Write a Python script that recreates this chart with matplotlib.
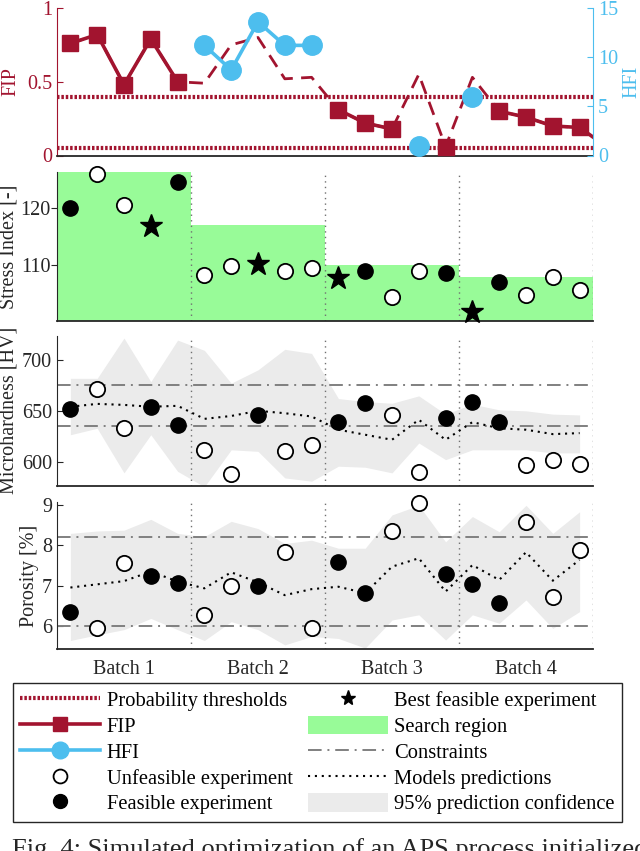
import numpy as np
import matplotlib
matplotlib.use("Agg")
import matplotlib.pyplot as plt
from matplotlib.lines import Line2D
from matplotlib.patches import Patch

plt.rcParams['font.family'] = ['Liberation Serif', 'DejaVu Serif']
plt.rcParams['font.size'] = 14.5

# ---------------------------------------------------------
# Data
# ---------------------------------------------------------
exp_id = np.arange(1, 21)
batch_edges = [0.5, 5.5, 10.5, 15.5, 20.5]
batch_labels = ["Batch 1", "Batch 2", "Batch 3", "Batch 4"]

# top panel: FIP (left axis) and HFI (right axis)
fip = [0.76, 0.82, 0.48, 0.79, 0.50, 0.49, 0.75, 0.80, 0.52, 0.53,
       0.31, 0.22, 0.18, 0.55, 0.06, 0.53, 0.30, 0.26, 0.20, 0.19, 0.06]
fip_runs = [(1, 5), (11, 13), (15, 15), (17, 21)]
hfi_x = [6, 7, 8, 9, 10, 14, 16]
hfi = [11.2, 8.7, 13.6, 11.2, 11.2, 1.0, 6.0]
hfi_runs = [(6, 10), (14, 14), (16, 16)]
prob_thresholds = [0.4, 0.05]

# experiment status
feasible = [1, 4, 5, 8, 11, 12, 15, 16, 17]
best = [4, 8, 11, 16]

# stress index
stress = [120.0, 126.2, 120.6, 116.9, 124.7, 108.1, 109.7, 110.1, 108.8, 109.4,
          107.6, 108.9, 104.2, 108.9, 108.5, 101.6, 106.9, 104.5, 107.8, 105.5]
search_top = [126.5, 117.0, 110.0, 107.8]
stress_floor = 100

# microhardness
hv = [652, 671.4, 633.2, 654, 635.8, 611.5, 588.8, 645.5, 611, 617,
      639, 657.4, 646, 590, 643, 658.4, 639.6, 597.6, 602.4, 598.2]
hv_pred = [654, 656.8, 655.8, 654, 654.9, 642.2, 645, 650, 647.7, 644.5,
           631.6, 626.7, 621.8, 641.3, 621.8, 639, 633, 631.6, 627.3, 628.3]
hv_hi = [681.7, 681.7, 721, 678.5, 719, 709, 677, 690, 710, 706,
         662, 659, 657.4, 664.6, 646.8, 656.5, 651, 650, 646.8, 646]
hv_lo = [626.7, 633, 589.5, 626.7, 591, 576, 612, 610.5, 584.6, 581.4,
         596, 595, 589.5, 618.6, 602.4, 612, 612, 612, 609, 609]
hv_limits = [635, 675]

# porosity
por = [6.35, 5.93, 7.57, 7.24, 7.07, 6.27, 7.0, 7.0, 7.83, 5.93,
       7.59, 6.81, 8.36, 9.07, 7.29, 7.03, 6.57, 8.59, 6.71, 7.89]
por_pred = [6.95, 7.03, 7.11, 7.35, 7.1, 6.93, 7.33, 7.08, 6.76, 6.91,
            6.97, 6.81, 7.47, 7.68, 6.85, 7.51, 7.14, 7.83, 7.12, 7.64]
por_hi = [8.3, 8.36, 8.38, 8.65, 8.3, 8.22, 8.6, 8.42, 8.05, 8.13,
          7.93, 7.93, 8.76, 9.0, 8.09, 8.72, 8.34, 9.0, 8.3, 8.84]
por_lo = [5.63, 5.77, 5.9, 6.18, 5.9, 5.63, 6.1, 5.9, 5.52, 5.73,
          5.68, 5.44, 6.14, 6.27, 5.64, 6.27, 6.06, 6.64, 5.93, 6.35]
por_limits = [6.0, 8.2]

# ---------------------------------------------------------
# Styles
# ---------------------------------------------------------
red = "#A2142F"
blue = "#4DBEEE"
green = "#98FB98"
band = "#EBEBEB"
dark = "#262626"
cons_ls = (0, (7, 3, 1, 3))
pred_ls = (0, (1, 2.3))
thr_ls = (0, (0.6, 0.45))

W, H = 640, 851
fig = plt.figure(figsize=(W / 100, H / 100), dpi=100)


def rect(top, bottom):
    return [57 / W, 1 - bottom / H, 536 / W, (bottom - top) / H]


ax1 = fig.add_axes(rect(8, 155.5))
ax2 = fig.add_axes(rect(172, 320.7))
ax3 = fig.add_axes(rect(336, 485.7))
ax4 = fig.add_axes(rect(501.7, 649.3))

# ---------------------------------------------------------
# Panel 1: FIP / HFI
# ---------------------------------------------------------
ax1r = ax1.twinx()
x_fip = np.arange(1, len(fip) + 1)
for t in prob_thresholds:
    ax1.axhline(t, color=red, lw=3, ls=thr_ls, zorder=1)
ax1.plot(x_fip, fip, color=red, lw=2, ls=(0, (5, 3)), zorder=2)
for a, b in fip_runs:
    xs = x_fip[a - 1:b]
    ys = fip[a - 1:b]
    ax1.plot(xs, ys, color=red, lw=2.6, marker="s", ms=11, zorder=3)

for a, b in hfi_runs:
    xs = [x for x in hfi_x if a <= x <= b]
    ys = [hfi[hfi_x.index(x)] for x in xs]
    ax1r.plot(xs, ys, color=blue, lw=2.6, marker="o", ms=14, zorder=3)

ax1.set_xlim(0.5, 20.5)
ax1.set_ylim(0, 1)
ax1r.set_ylim(0, 15)
ax1.set_yticks([0, 0.5, 1])
ax1.set_yticklabels(["0", "0.5", "1"])
ax1r.set_yticks([0, 5, 10, 15])
ax1.set_xticks([])
ax1.tick_params(axis="y", colors=red, direction="in", length=4)
ax1r.tick_params(axis="y", colors=blue, direction="in", length=4)
ax1.spines["top"].set_visible(False)
ax1.spines["right"].set_visible(False)
ax1.spines["left"].set_color(red)
ax1.spines["bottom"].set_color(dark)
ax1.spines["bottom"].set_linewidth(1.3)
for s in ["top", "left", "bottom"]:
    ax1r.spines[s].set_visible(False)
ax1r.spines["right"].set_color(blue)
ax1.set_ylabel("FIP", color=red)
ax1r.set_ylabel("HFI", color=blue)
ax1.yaxis.set_label_coords(-0.068, 0.5)
ax1r.yaxis.set_label_coords(1.055, 0.5)


# ---------------------------------------------------------
# Experiment markers helper
# ---------------------------------------------------------
def draw_points(ax, values, with_best):
    for i, v in zip(exp_id, values):
        if with_best and i in best:
            ax.plot(i, v, marker="*", ms=17, color="black", ls="none",
                    zorder=5, clip_on=False)
        elif i in feasible:
            ax.plot(i, v, marker="o", ms=11, mfc="black", mec="black",
                    ls="none", zorder=5, clip_on=False)
        else:
            ax.plot(i, v, marker="o", ms=11, mfc="white", mec="black",
                    mew=1.3, ls="none", zorder=5, clip_on=False)


def style_panel(ax):
    ax.set_xlim(0.5, 20.5)
    ax.spines["top"].set_visible(False)
    ax.spines["right"].set_visible(False)
    ax.spines["left"].set_color(dark)
    ax.spines["bottom"].set_color(dark)
    ax.spines["bottom"].set_linewidth(1.3)
    ax.tick_params(axis="y", colors=dark, direction="in", length=4)
    ax.tick_params(axis="x", length=0)
    for e in batch_edges[1:]:
        ax.axvline(e, color="#707070", lw=1, ls=(0, (1, 3)), zorder=2)


batch_centers = [(batch_edges[k] + batch_edges[k + 1]) / 2 for k in range(4)]

# ---------------------------------------------------------
# Panel 2: Stress index
# ---------------------------------------------------------
ax2.bar(batch_centers, np.array(search_top) - stress_floor, width=5,
        bottom=stress_floor, color=green, zorder=1)
draw_points(ax2, stress, True)
style_panel(ax2)
ax2.set_ylim(stress_floor, 126.5)
ax2.set_yticks([110, 120])
ax2.set_xticks([])
ax2.tick_params(axis="y", direction="out", pad=0.5)
ax2.set_ylabel("Stress Index [-]", color=dark)
ax2.yaxis.set_label_coords(-0.071, 0.5)

# ---------------------------------------------------------
# Panel 3: Microhardness
# ---------------------------------------------------------
ax3.fill_between(exp_id, hv_lo, hv_hi, color=band, lw=0, zorder=1)
for c in hv_limits:
    ax3.axhline(c, color="#808080", lw=1.4, ls=cons_ls, zorder=2)
ax3.plot(exp_id, hv_pred, color="black", lw=1.5, ls=pred_ls, zorder=3)
draw_points(ax3, hv, False)
style_panel(ax3)
ax3.set_ylim(577, 723)
ax3.set_yticks([600, 650, 700])
ax3.set_xticks([])
ax3.set_ylabel("Microhardness [HV]", color=dark)
ax3.yaxis.set_label_coords(-0.071, 0.5)

# ---------------------------------------------------------
# Panel 4: Porosity
# ---------------------------------------------------------
ax4.fill_between(exp_id, por_lo, por_hi, color=band, lw=0, zorder=1)
for c in por_limits:
    ax4.axhline(c, color="#808080", lw=1.4, ls=cons_ls, zorder=2)
ax4.plot(exp_id, por_pred, color="black", lw=1.5, ls=pred_ls, zorder=3)
draw_points(ax4, por, False)
style_panel(ax4)
ax4.set_ylim(5.41, 9.09)
ax4.set_yticks([6, 7, 8, 9])
ax4.set_xticks(batch_centers)
ax4.set_xticklabels(batch_labels, color=dark)
ax4.tick_params(axis="x", pad=8)
ax4.set_ylabel("Porosity [%]", color=dark)
ax4.yaxis.set_label_coords(-0.033, 0.5)

# ---------------------------------------------------------
# Legend
# ---------------------------------------------------------
handles = [
    Line2D([], [], color=red, lw=3, ls=thr_ls),
    Line2D([], [], color=red, lw=2.6, marker="s", ms=10.5),
    Line2D([], [], color=blue, lw=2.6, marker="o", ms=12),
    Line2D([], [], ls="none", marker="o", ms=10, mfc="white", mec="black", mew=1.3),
    Line2D([], [], ls="none", marker="o", ms=10, mfc="black", mec="black"),
    Line2D([], [], ls="none", marker="*", ms=11, color="black"),
    Patch(facecolor=green, edgecolor="none"),
    Line2D([], [], color="#808080", lw=1.4, ls=cons_ls),
    Line2D([], [], color="black", lw=1.5, ls=pred_ls),
    Patch(facecolor=band, edgecolor="none"),
]
labels = ["Probability thresholds", "FIP", "HFI", "Unfeasible experiment",
          "Feasible experiment", "Best feasible experiment", "Search region",
          "Constraints", "Models predictions", "95% prediction confidence"]
leg = fig.legend(handles, labels, loc="upper left",
                 bbox_to_anchor=(13 / W, 1 - 683 / H), ncol=2,
                 frameon=True, fancybox=False, edgecolor=dark, framealpha=1,
                 fontsize=14.8, handlelength=3.9, handleheight=1.0,
                 handletextpad=0.3, columnspacing=0.75, labelspacing=0.22,
                 borderpad=0.35, borderaxespad=0)
leg.get_frame().set_linewidth(1.0)

# caption (cut off at the bottom edge, as in the source image)
fig.text(12 / W, -0.006, "Fig. 4: Simulated optimization of an APS process initialized",
         fontsize=19, ha="left", va="baseline", color=dark)

fig.savefig("out.png", dpi=100)
